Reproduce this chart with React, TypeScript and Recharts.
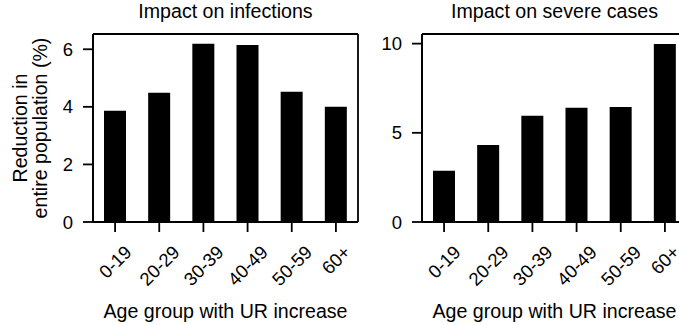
import { BarChart, Bar, XAxis, YAxis, CartesianGrid } from 'recharts'

const ageGroups = ['0-19', '20-29', '30-39', '40-49', '50-59', '60+']
const infectionReduction = [3.86, 4.49, 6.19, 6.15, 4.52, 4.0]
const severeReduction = [2.87, 4.32, 5.95, 6.4, 6.45, 9.98]
const infectionTicks = [0, 2, 4, 6]
const severeTicks = [0, 5, 10]

const FONT = '"Liberation Sans", Arial, Helvetica, sans-serif'
const LINE = { stroke: '#000', strokeWidth: 1.8 }
const LABEL_FS = 19.6
const TICK_FS = 18.5

// rotated (45deg) tick label, box centred under the tick like matplotlib
function AgeTick(props: any) {
  const { x, y, payload } = props
  const label = String(payload.value)
  const w = label.split('').reduce((s, c) => s + (c === '-' ? 0.333 : c === '+' ? 0.584 : 0.556), 0) * TICK_FS
  const half = ((w + TICK_FS * 0.72) * Math.SQRT1_2) / 2
  const cy = y + 12 + half
  return (
    <text
      x={x}
      y={cy}
      dy="0.36em"
      textAnchor="middle"
      fontSize={TICK_FS}
      fill="#000"
      transform={`rotate(-45 ${x} ${cy})`}
    >
      {label}
    </text>
  )
}

function YLabel(props: any) {
  const vb = props.viewBox || { x: 0, y: 34, width: 93, height: 188 }
  const cy = vb.y + vb.height / 2
  return (
    <g fill="#000" fontSize={LABEL_FS}>
      <text x={27} y={cy} textAnchor="middle" transform={`rotate(-90 27 ${cy})`}>Reduction in</text>
      <text x={47} y={cy} textAnchor="middle" transform={`rotate(-90 47 ${cy})`}>entire population (%)</text>
    </g>
  )
}

// frame round the plot area (matplotlib spines)
const frameRows = ({ offset }: any) => [offset.top, offset.top + offset.height]
const frameCols = ({ offset }: any) => [offset.left, offset.left + offset.width]

interface PanelProps {
  title: string
  values: number[]
  ticks: number[]
  domainMax: number
  left: number
  showYLabel?: boolean
}

function Panel({ title, values, ticks, domainMax, left, showYLabel }: PanelProps) {
  const data = ageGroups.map((age, i) => ({ age, value: values[i] }))
  return (
    <div style={{ position: 'absolute', left, top: 0, width: 360, height: 325 }}>
      <div
        style={{
          position: 'absolute', left: 93, width: 265, top: 2,
          textAlign: 'center', fontSize: LABEL_FS, lineHeight: '19px', whiteSpace: 'nowrap',
        }}
      >
        {title}
      </div>
      <BarChart width={360} height={325} data={data} margin={{ top: 34, right: 2, bottom: 0, left: 0 }} barSize={22}>
        <CartesianGrid
          stroke="#000"
          strokeWidth={1.8}
          horizontalCoordinatesGenerator={frameRows}
          verticalCoordinatesGenerator={frameCols}
        />
        <XAxis
          dataKey="age"
          height={103}
          interval={0}
          tickSize={10}
          tickMargin={0}
          tick={<AgeTick />}
          axisLine={LINE}
          tickLine={LINE}
          label={{ value: 'Age group with UR increase', position: 'insideBottom', offset: 7, fill: '#000', fontSize: LABEL_FS }}
        />
        <YAxis
          width={93}
          domain={[0, domainMax]}
          ticks={ticks}
          allowDataOverflow
          tickSize={10}
          tickMargin={10}
          tick={{ fill: '#000', fontSize: TICK_FS }}
          axisLine={LINE}
          tickLine={LINE}
          label={showYLabel ? <YLabel /> : undefined}
        />
        <Bar dataKey="value" fill="#000" isAnimationActive={false} />
      </BarChart>
    </div>
  )
}

export default function App() {
  return (
    <div
      style={{
        position: 'absolute', left: 0, top: 0, width: 679, height: 325,
        overflow: 'hidden', background: '#fff', fontFamily: FONT, color: '#000',
      }}
    >
      <Panel title="Impact on infections" values={infectionReduction} ticks={infectionTicks} domainMax={6.53} left={0} showYLabel />
      <Panel title="Impact on severe cases" values={severeReduction} ticks={severeTicks} domainMax={10.54} left={329} />
    </div>
  )
}
